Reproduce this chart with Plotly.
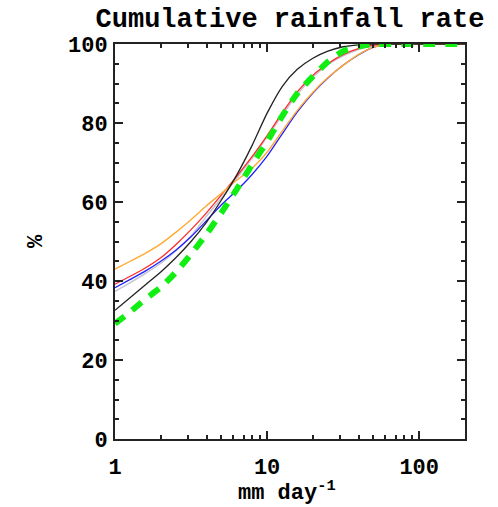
import plotly.graph_objects as go

rate = [1, 1.26, 1.58, 2, 2.51, 3.16, 3.98, 5.01, 6.31, 7.94, 10, 12.6, 15.8, 20,
        25.1, 31.6, 39.8, 50.1, 63.1, 79.4, 100, 126, 158, 200]

grey_pct   = [37.4, 39.6, 41.9, 44.5, 47.6, 51.4, 56.3, 61.0, 66.0, 71.0, 76.5, 82.0, 87.3, 91.6,
              94.8, 97.0, 98.6, 99.6, 100, 100, 100, 100, 100, 100]
blue_pct   = [38.3, 40.4, 42.5, 45.0, 47.8, 51.2, 55.2, 59.3, 62.9, 66.9, 71.6, 77.3, 82.8, 87.6,
              91.4, 94.6, 97.2, 99.2, 100, 100, 100, 100, 100, 100]
red_pct    = [39.2, 41.2, 43.3, 45.9, 49.2, 53.0, 57.2, 61.8, 66.5, 71.4, 76.8, 82.6, 87.9, 92.1,
              95.0, 97.3, 98.8, 99.7, 100, 100, 100, 100, 100, 100]
orange_pct = [43.0, 45.0, 47.0, 49.4, 52.3, 55.5, 59.0, 62.2, 65.5, 68.5, 72.6, 78.0, 83.2, 87.8,
              91.5, 94.6, 97.3, 99.2, 100, 100, 100, 100, 100, 100]
black_pct  = [32.6, 35.8, 39.0, 42.3, 45.9, 50.0, 54.8, 60.5, 66.8, 74.2, 82.5, 89.3, 93.6, 96.4,
              98.2, 99.3, 99.8, 100, 100, 100, 100, 100, 100, 100]
green_pct  = [29.2, 32.2, 35.4, 38.4, 42.2, 46.8, 51.8, 57.3, 63.2, 69.4, 75.3, 81.8, 87.5, 91.8,
              95.5, 98.2, 99.4, 100, 100, 100, 100, 100, 100, 100]

x_tickvals = [1, 10, 100]
x_ticktext = ["1", "10", "100"]
x_minor = [2, 3, 4, 5, 6, 7, 8, 9, 20, 30, 40, 50, 60, 70, 80, 90]
y_tickvals = [0, 20, 40, 60, 80, 100]

series = [
    (grey_pct, "#c4c4d4", 1.5, "solid"),
    (blue_pct, "#2020ff", 1.3, "solid"),
    (red_pct, "#ff2a2a", 1.3, "solid"),
    (orange_pct, "#ffaa33", 1.4, "solid"),
    (black_pct, "#222222", 1.3, "solid"),
    (green_pct, "#11ee11", 6, "12px,10px"),
]

fig = go.Figure()
for vals, col, w, dash in series:
    fig.add_trace(go.Scatter(x=rate, y=vals, mode="lines",
                             line=dict(color=col, width=w, dash=dash, shape="spline", smoothing=0.6),
                             showlegend=False, hoverinfo="skip"))

font_mono = "Liberation Mono"
fig.update_layout(
    width=498, height=507,
    margin=dict(l=115, r=33, t=44, b=68),
    plot_bgcolor="white", paper_bgcolor="white",
    title=dict(text="<b>Cumulative rainfall rate</b>", x=0.5, xanchor="center",
               xref="paper", y=0.965, yanchor="middle",
               font=dict(family=font_mono, size=27, color="black")),
    xaxis=dict(type="log", range=[0, 2.30103], showline=True, linecolor="#222", linewidth=2,
               mirror="ticks", ticks="inside", ticklen=8, tickwidth=1.5, tickcolor="#222",
               tickvals=x_tickvals, ticktext=x_ticktext, showgrid=False, zeroline=False,
               automargin=False,
               tickfont=dict(family=font_mono, size=22, color="black", weight="bold"),
               ticklabelstandoff=7,
               minor=dict(tickvals=x_minor, ticks="inside", ticklen=4, tickwidth=1.5, tickcolor="#222")),
    yaxis=dict(range=[0, 100], showline=True, linecolor="#222", linewidth=2,
               mirror="ticks", ticks="inside", ticklen=8, tickwidth=1.5, tickcolor="#222",
               tickvals=y_tickvals, showgrid=False, zeroline=False,
               automargin=False,
               tickfont=dict(family=font_mono, size=22, color="black", weight="bold"),
               ticklabelstandoff=1,
               minor=dict(dtick=5, tick0=0, ticks="inside", ticklen=4, tickwidth=1.5, tickcolor="#222"),
               title=dict(text="<b>%</b>", standoff=19,
                          font=dict(family=font_mono, size=22, color="black"))),
    annotations=[dict(text="<b>mm day<sup>-1</sup></b>", xref="paper", yref="paper",
                      x=0.49, y=-0.133, xanchor="center", yanchor="middle", showarrow=False,
                      borderpad=0,
                      font=dict(family=font_mono, size=22, color="black"))],
)
fig.write_html("out.html")
